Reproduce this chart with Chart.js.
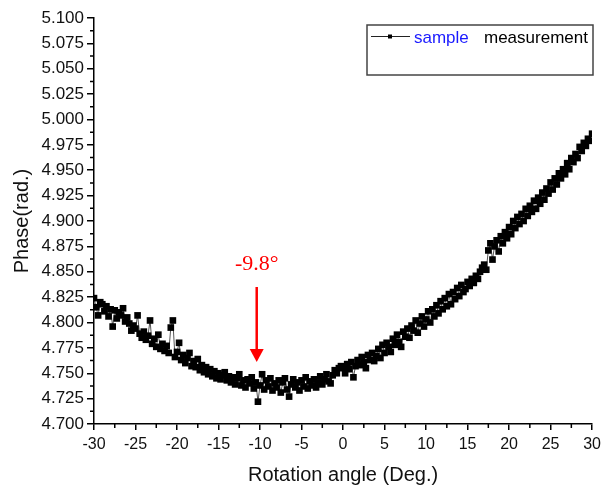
<!DOCTYPE html>
<html lang="en">
<head>
    <meta charset="UTF-8">
    <title>Phase vs rotation angle</title>
    <script src="https://cdn.jsdelivr.net/npm/chart.js@4.4.1/dist/chart.umd.min.js"></script>
    <style>
        html, body { margin: 0; padding: 0; background: #fff; }
        #wrap { width: 606px; height: 487px; }
    </style>
</head>
<body>
    <div id="wrap"><canvas id="phaseChart" width="606" height="487"></canvas></div>
    <script>
        // rotation angle (deg.)
        const angles = [
            -30, -29.75, -29.5, -29.25, -29, -28.75, -28.5, -28.25, -28, -27.75, -27.5, -27.25,
            -27, -26.75, -26.5, -26.25, -26, -25.75, -25.5, -25.25, -25, -24.75, -24.5, -24.25,
            -24, -23.75, -23.5, -23.25, -23, -22.75, -22.5, -22.25, -22, -21.75, -21.5, -21.25,
            -21, -20.75, -20.5, -20.25, -20, -19.75, -19.5, -19.25, -19, -18.75, -18.5, -18.25,
            -18, -17.75, -17.5, -17.25, -17, -16.75, -16.5, -16.25, -16, -15.75, -15.5, -15.25,
            -15, -14.75, -14.5, -14.25, -14, -13.75, -13.5, -13.25, -13, -12.75, -12.5, -12.25,
            -12, -11.75, -11.5, -11.25, -11, -10.75, -10.5, -10.25, -10, -9.75, -9.5, -9.25,
            -9, -8.75, -8.5, -8.25, -8, -7.75, -7.5, -7.25, -7, -6.75, -6.5, -6.25,
            -6, -5.75, -5.5, -5.25, -5, -4.75, -4.5, -4.25, -4, -3.75, -3.5, -3.25,
            -3, -2.75, -2.5, -2.25, -2, -1.75, -1.5, -1.25, -1, -0.75, -0.5, -0.25,
            0, 0.25, 0.5, 0.75, 1, 1.25, 1.5, 1.75, 2, 2.25, 2.5, 2.75,
            3, 3.25, 3.5, 3.75, 4, 4.25, 4.5, 4.75, 5, 5.25, 5.5, 5.75,
            6, 6.25, 6.5, 6.75, 7, 7.25, 7.5, 7.75, 8, 8.25, 8.5, 8.75,
            9, 9.25, 9.5, 9.75, 10, 10.25, 10.5, 10.75, 11, 11.25, 11.5, 11.75,
            12, 12.25, 12.5, 12.75, 13, 13.25, 13.5, 13.75, 14, 14.25, 14.5, 14.75,
            15, 15.25, 15.5, 15.75, 16, 16.25, 16.5, 16.75, 17, 17.25, 17.5, 17.75,
            18, 18.25, 18.5, 18.75, 19, 19.25, 19.5, 19.75, 20, 20.25, 20.5, 20.75,
            21, 21.25, 21.5, 21.75, 22, 22.25, 22.5, 22.75, 23, 23.25, 23.5, 23.75,
            24, 24.25, 24.5, 24.75, 25, 25.25, 25.5, 25.75, 26, 26.25, 26.5, 26.75,
            27, 27.25, 27.5, 27.75, 28, 28.25, 28.5, 28.75, 29, 29.25, 29.5, 29.75,
            30
        ];
        // phase (rad.)
        const phase = [
            4.824, 4.815, 4.807, 4.820, 4.818, 4.811, 4.816, 4.806, 4.813, 4.796, 4.812, 4.804,
            4.810, 4.807, 4.814, 4.801, 4.805, 4.799, 4.792, 4.797, 4.794, 4.807, 4.789, 4.785,
            4.791, 4.783, 4.787, 4.802, 4.779, 4.784, 4.776, 4.788, 4.774, 4.779, 4.772, 4.777,
            4.770, 4.795, 4.802, 4.766, 4.771, 4.780, 4.763, 4.768, 4.760, 4.765, 4.770, 4.757,
            4.762, 4.756, 4.764, 4.753, 4.758, 4.751, 4.756, 4.749, 4.754, 4.747, 4.752, 4.745,
            4.750, 4.744, 4.748, 4.751, 4.743, 4.747, 4.741, 4.746, 4.739, 4.745, 4.749, 4.738,
            4.743, 4.736, 4.744, 4.740, 4.746, 4.735, 4.741, 4.722, 4.738, 4.749, 4.734, 4.743,
            4.737, 4.745, 4.733, 4.740, 4.736, 4.743, 4.731, 4.741, 4.745, 4.734, 4.727, 4.739,
            4.744, 4.736, 4.741, 4.733, 4.743, 4.737, 4.746, 4.735, 4.742, 4.738, 4.744, 4.736,
            4.741, 4.747, 4.739, 4.744, 4.749, 4.742, 4.740, 4.748, 4.753, 4.750, 4.755, 4.757,
            4.756, 4.750, 4.759, 4.754, 4.761, 4.746, 4.757, 4.763, 4.758, 4.766, 4.761, 4.755,
            4.768, 4.763, 4.770, 4.762, 4.767, 4.774, 4.765, 4.778, 4.770, 4.780, 4.776, 4.771,
            4.784, 4.778, 4.788, 4.781, 4.776, 4.791, 4.786, 4.794, 4.785, 4.797, 4.792, 4.802,
            4.790, 4.799, 4.806, 4.796, 4.803, 4.811, 4.800, 4.813, 4.806, 4.817, 4.809, 4.821,
            4.813, 4.824, 4.816, 4.828, 4.818, 4.830, 4.823, 4.834, 4.826, 4.837, 4.830, 4.833,
            4.840, 4.836, 4.843, 4.839, 4.846, 4.843, 4.850, 4.854, 4.857, 4.852, 4.871, 4.878,
            4.862, 4.875, 4.881, 4.870, 4.885, 4.878, 4.889, 4.883, 4.894, 4.887, 4.900, 4.893,
            4.904, 4.897, 4.907, 4.900, 4.912, 4.905, 4.915, 4.909, 4.920, 4.912, 4.923, 4.917,
            4.928, 4.921, 4.932, 4.927, 4.938, 4.931, 4.942, 4.936, 4.947, 4.942, 4.951, 4.946,
            4.957, 4.951, 4.962, 4.958, 4.966, 4.962, 4.973, 4.969, 4.977, 4.974, 4.981, 4.979,
            4.986
        ];
        // arrow annotation
        const markAngle = -10.4;
        const markLabel = '-9.8°';
        const arrowFrom = 4.835;
        const arrowTo = 4.761;
        const labelAt = 4.857;

        const points = angles.map((a, i) => ({ x: a, y: phase[i] }));

        // minor ticks, arrow and legend box
        const extras = {
            id: 'extras',
            afterDraw(chart) {
                const { ctx, scales: { x, y }, chartArea } = chart;
                ctx.save();
                ctx.strokeStyle = '#000';
                ctx.lineWidth = 1.5;
                ctx.beginPath();
                for (let v = -27.5; v < 30; v += 5) {
                    const px = x.getPixelForValue(v);
                    ctx.moveTo(px, chartArea.bottom);
                    ctx.lineTo(px, chartArea.bottom + 4);
                }
                for (let k = 0; k < 16; k++) {
                    const py = y.getPixelForValue(4.7125 + k * 0.025);
                    ctx.moveTo(chartArea.left, py);
                    ctx.lineTo(chartArea.left - 4, py);
                }
                ctx.stroke();

                // red arrow
                const ax = x.getPixelForValue(markAngle);
                const ay0 = y.getPixelForValue(arrowFrom);
                const ay1 = y.getPixelForValue(arrowTo);
                ctx.strokeStyle = '#ff0000';
                ctx.fillStyle = '#ff0000';
                ctx.lineWidth = 2.5;
                ctx.beginPath();
                ctx.moveTo(ax, ay0);
                ctx.lineTo(ax, ay1 - 10);
                ctx.stroke();
                ctx.beginPath();
                ctx.moveTo(ax - 7, ay1 - 13);
                ctx.lineTo(ax + 7, ay1 - 13);
                ctx.lineTo(ax, ay1);
                ctx.closePath();
                ctx.fill();
                ctx.font = '22px "Liberation Serif", "Times New Roman", serif';
                ctx.textAlign = 'center';
                ctx.textBaseline = 'middle';
                ctx.fillText(markLabel, ax, y.getPixelForValue(labelAt));

                // legend
                ctx.strokeStyle = '#444';
                ctx.lineWidth = 1.5;
                ctx.strokeRect(367, 25, 226, 50);
                ctx.strokeStyle = '#222';
                ctx.lineWidth = 1;
                ctx.beginPath();
                ctx.moveTo(371, 36.5);
                ctx.lineTo(410, 36.5);
                ctx.stroke();
                ctx.fillStyle = '#000';
                ctx.fillRect(388, 34.5, 4, 4);
                ctx.font = '17px "Liberation Sans", Arial, sans-serif';
                ctx.textAlign = 'left';
                ctx.textBaseline = 'middle';
                ctx.fillStyle = '#1a1aff';
                ctx.fillText('sample', 414, 38);
                ctx.fillStyle = '#000';
                ctx.fillText('measurement', 484, 38);
                ctx.restore();
            }
        };

        new Chart(document.getElementById('phaseChart').getContext('2d'), {
            type: 'scatter',
            data: {
                datasets: [{
                    label: 'sample measurement',
                    data: points,
                    showLine: true,
                    borderColor: '#555',
                    borderWidth: 1,
                    pointStyle: 'rect',
                    pointRadius: 4.7,
                    pointBackgroundColor: '#000',
                    pointBorderColor: '#000',
                    pointBorderWidth: 0
                }]
            },
            options: {
                responsive: false,
                animation: false,
                layout: { padding: { top: 18, right: 13, left: 0, bottom: 0 } },
                plugins: { legend: { display: false }, tooltip: { enabled: false } },
                scales: {
                    x: {
                        type: 'linear',
                        min: -30,
                        max: 30,
                        afterFit: (s) => { s.height = 63; },
                        border: { display: true, color: '#000', width: 1.5 },
                        grid: { drawOnChartArea: false, drawTicks: true, tickLength: 6, color: '#000', lineWidth: 1.5 },
                        ticks: {
                            stepSize: 5,
                            padding: 5,
                            color: '#111',
                            font: { family: '"Liberation Sans", Arial, sans-serif', size: 16 }
                        },
                        title: {
                            display: true,
                            text: 'Rotation angle (Deg.)',
                            color: '#111',
                            padding: { top: 0, bottom: 0 },
                            font: { family: '"Liberation Sans", Arial, sans-serif', size: 20 }
                        }
                    },
                    y: {
                        min: 4.7,
                        max: 5.1,
                        afterFit: (s) => { s.width = 94; },
                        border: { display: true, color: '#000', width: 1.5 },
                        grid: { drawOnChartArea: false, drawTicks: true, tickLength: 7, color: '#000', lineWidth: 1.5 },
                        ticks: {
                            stepSize: 0.025,
                            padding: 3,
                            color: '#111',
                            font: { family: '"Liberation Sans", Arial, sans-serif', size: 17 },
                            callback: (v) => Number(v).toFixed(3)
                        },
                        title: {
                            display: true,
                            text: 'Phase(rad.)',
                            color: '#111',
                            padding: { top: 10, bottom: 0 },
                            font: { family: '"Liberation Sans", Arial, sans-serif', size: 20 }
                        }
                    }
                }
            },
            plugins: [extras]
        });
    </script>
</body>
</html>
